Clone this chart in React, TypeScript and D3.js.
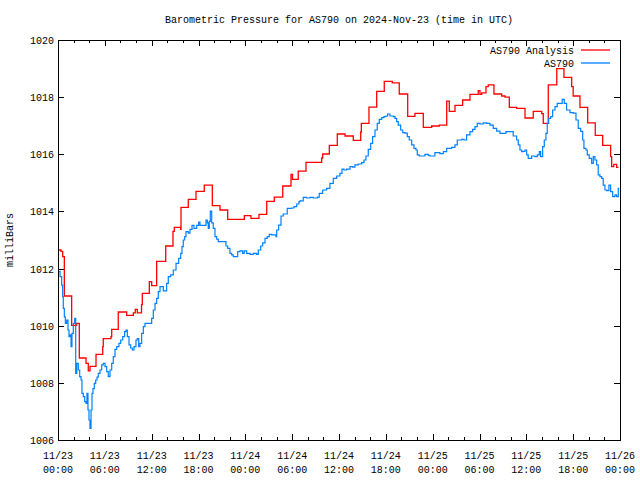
import React from "react";
import * as d3 from "d3";

const TITLE = "Barometric Pressure for AS790 on 2024-Nov-23 (time in UTC)";
const Y_LABEL = "milliBars";
const SERIES_NAMES = ["AS790 Analysis", "AS790"];
const Y_TICKS = [1006, 1008, 1010, 1012, 1014, 1016, 1018, 1020];
const X_TICK_HOURS = [0, 6, 12, 18, 24, 30, 36, 42, 48, 54, 60, 66, 72];
const X_TICK_DATES = ["11/23", "11/23", "11/23", "11/23", "11/24", "11/24", "11/24", "11/24", "11/25", "11/25", "11/25", "11/25", "11/26"];
const X_TICK_TIMES = ["00:00", "06:00", "12:00", "18:00", "00:00", "06:00", "12:00", "18:00", "00:00", "06:00", "12:00", "18:00", "00:00"];

// Analysis (step) series: hours since 11/23 00:00 UTC, pressure (mb)
const analysisHours = [0, 0.38, 0.6, 0.81, 1.75, 2.4, 2.73, 3.59, 3.88, 4.1, 4.87, 5.73, 5.8, 6.79, 6.88, 7.72, 8.8, 9.65, 9.9, 10.16, 10.7, 10.8, 11.7, 12.0, 12.64, 13.8, 14.73, 14.9, 15.72, 15.76, 16.69, 17.68, 18.74, 19.77, 20.75, 21.74, 23.87, 24.72, 25.75, 26.74, 27.71, 28.79, 29.85, 30.04, 30.78, 31.77, 33.78, 33.91, 34.76, 35.78, 36.77, 37.83, 38.78, 38.86, 39.84, 40.83, 41.8, 42.83, 43.72, 44.8, 45.73, 46.8, 47.87, 48.85, 49.8, 50.13, 50.86, 51.84, 52.78, 53.84, 54.06, 54.28, 54.83, 55.12, 55.85, 56.84, 57.27, 57.82, 58.76, 59.83, 60.89, 61.97, 62.17, 62.81, 63.9, 64.82, 65.81, 66.0, 66.87, 67.86, 68.83, 69.78, 70.8, 70.93, 71.2, 71.57, 71.8];
const analysisValues = [1012.65, 1012.6, 1012.42, 1011.04, 1010.01, 1010.08, 1008.87, 1008.68, 1008.42, 1008.58, 1009.0, 1009.27, 1009.55, 1009.62, 1009.87, 1010.48, 1010.36, 1010.45, 1010.57, 1010.45, 1010.74, 1011.13, 1011.54, 1011.4, 1012.25, 1012.79, 1013.3, 1013.44, 1013.37, 1014.14, 1014.42, 1014.7, 1014.92, 1014.2, 1014.05, 1013.72, 1013.85, 1013.76, 1013.9, 1014.35, 1014.5, 1014.89, 1015.3, 1015.12, 1015.41, 1015.72, 1015.87, 1016.01, 1016.31, 1016.71, 1016.64, 1016.49, 1016.78, 1017.08, 1017.65, 1018.2, 1018.55, 1018.5, 1018.11, 1017.33, 1017.43, 1016.94, 1016.99, 1017.02, 1017.86, 1017.5, 1017.71, 1017.9, 1018.1, 1018.23, 1018.1, 1018.15, 1018.37, 1018.43, 1018.11, 1018.04, 1018.0, 1017.64, 1017.61, 1017.27, 1017.5, 1017.42, 1017.08, 1018.43, 1019.0, 1018.69, 1018.37, 1018.04, 1017.64, 1017.1, 1016.66, 1016.31, 1015.92, 1015.57, 1015.65, 1015.54, 1015.54];

// Observed series
const obsHours = [0.05, 0.26, 0.47, 0.6, 0.68, 0.81, 0.94, 1.11, 1.28, 1.41, 1.54, 1.67, 1.79, 1.96, 2.14, 2.27, 2.4, 2.6, 2.78, 2.95, 3.07, 3.24, 3.42, 3.59, 3.71, 3.84, 3.97, 4.1, 4.23, 4.36, 4.48, 4.65, 4.83, 5.0, 5.16, 5.38, 5.6, 5.8, 6.02, 6.24, 6.44, 6.66, 6.88, 7.08, 7.3, 7.52, 7.81, 8.03, 8.29, 8.54, 8.71, 8.88, 9.1, 9.31, 9.52, 9.74, 9.99, 10.16, 10.34, 10.5, 10.72, 10.93, 11.14, 11.79, 12.0, 12.21, 12.43, 12.64, 12.85, 13.07, 13.49, 13.92, 14.13, 14.44, 14.77, 15.12, 15.46, 15.72, 15.88, 16.05, 16.23, 16.4, 16.69, 16.91, 17.17, 17.42, 17.77, 18.02, 18.19, 18.7, 18.96, 19.13, 19.25, 19.38, 19.51, 19.69, 19.89, 20.11, 20.33, 20.53, 21.39, 21.52, 21.74, 22.03, 22.25, 22.46, 22.8, 23.02, 23.31, 23.66, 23.86, 24.17, 24.6, 25.02, 25.45, 25.66, 25.97, 26.22, 26.52, 26.81, 27.07, 27.38, 27.67, 27.93, 28.02, 28.27, 28.57, 28.86, 29.21, 29.37, 29.63, 29.94, 30.23, 30.58, 30.87, 31.0, 31.42, 31.86, 32.28, 32.7, 33.22, 33.47, 33.91, 34.42, 34.84, 35.27, 35.7, 36.12, 36.38, 36.64, 36.98, 37.41, 37.75, 38.04, 38.47, 38.9, 39.2, 39.45, 39.75, 40.06, 40.31, 40.61, 40.9, 41.16, 41.47, 41.76, 42.02, 42.23, 42.53, 42.95, 43.17, 43.39, 43.59, 43.9, 44.16, 44.45, 44.75, 45.0, 45.31, 45.6, 45.86, 46.03, 46.28, 46.79, 47.01, 47.43, 47.65, 48.29, 48.93, 49.36, 49.79, 50.43, 50.86, 51.15, 51.72, 52.01, 52.35, 52.78, 53.12, 53.42, 53.71, 54.06, 54.48, 54.92, 55.34, 55.76, 56.2, 56.62, 57.04, 57.39, 57.9, 58.32, 58.76, 58.97, 59.18, 59.4, 59.6, 59.82, 60.04, 60.24, 60.68, 61.1, 61.4, 61.66, 61.83, 62.09, 62.3, 62.51, 62.68, 62.86, 63.12, 63.37, 63.67, 63.96, 64.31, 64.6, 64.86, 65.16, 65.59, 66.01, 66.36, 66.65, 66.96, 67.22, 67.38, 67.64, 67.81, 68.06, 68.37, 68.58, 68.79, 69.01, 69.21, 69.43, 69.65, 69.85, 70.07, 70.29, 70.58, 70.8, 71.06, 71.35, 71.57, 71.78, 71.9];
const obsValues = [1011.9, 1011.72, 1011.42, 1011.02, 1010.61, 1010.31, 1010.08, 1010.2, 1009.85, 1009.62, 1009.68, 1009.27, 1009.73, 1010.08, 1010.26, 1008.33, 1008.68, 1008.45, 1008.22, 1008.1, 1007.63, 1007.52, 1007.34, 1007.28, 1007.63, 1007.05, 1006.7, 1006.41, 1007.05, 1007.63, 1007.8, 1007.98, 1008.1, 1008.2, 1008.33, 1008.45, 1008.63, 1008.68, 1008.57, 1008.39, 1008.22, 1008.45, 1008.68, 1008.92, 1009.17, 1009.27, 1009.38, 1009.5, 1009.62, 1009.79, 1009.85, 1009.62, 1009.33, 1009.22, 1009.15, 1009.27, 1009.5, 1009.55, 1009.27, 1009.38, 1009.73, 1009.97, 1010.08, 1010.08, 1010.26, 1010.55, 1010.78, 1010.96, 1011.19, 1011.37, 1011.22, 1011.48, 1011.72, 1011.78, 1011.95, 1012.18, 1012.36, 1012.53, 1012.77, 1013.0, 1013.12, 1013.29, 1013.24, 1013.37, 1013.51, 1013.41, 1013.51, 1013.63, 1013.51, 1013.51, 1013.7, 1013.6, 1013.41, 1013.65, 1014.01, 1013.6, 1013.41, 1013.12, 1013.03, 1012.94, 1012.94, 1012.79, 1012.71, 1012.53, 1012.48, 1012.42, 1012.42, 1012.59, 1012.62, 1012.53, 1012.62, 1012.53, 1012.5, 1012.53, 1012.5, 1012.65, 1012.79, 1012.9, 1013.06, 1013.12, 1013.2, 1013.18, 1013.18, 1013.12, 1013.35, 1013.52, 1013.84, 1013.91, 1013.91, 1014.11, 1014.11, 1014.12, 1014.17, 1014.26, 1014.34, 1014.37, 1014.49, 1014.47, 1014.49, 1014.47, 1014.5, 1014.63, 1014.75, 1014.81, 1014.98, 1015.16, 1015.24, 1015.33, 1015.48, 1015.45, 1015.48, 1015.57, 1015.55, 1015.63, 1015.66, 1015.71, 1015.8, 1015.94, 1016.17, 1016.38, 1016.62, 1016.85, 1017.08, 1017.22, 1017.28, 1017.32, 1017.34, 1017.41, 1017.34, 1017.32, 1017.26, 1017.14, 1017.02, 1016.85, 1016.76, 1016.74, 1016.62, 1016.5, 1016.33, 1016.21, 1016.15, 1015.98, 1015.94, 1015.94, 1016.0, 1015.96, 1015.94, 1016.06, 1016.02, 1016.09, 1016.21, 1016.24, 1016.33, 1016.5, 1016.52, 1016.5, 1016.68, 1016.79, 1016.87, 1016.97, 1017.08, 1017.06, 1017.1, 1017.08, 1017.02, 1016.91, 1016.81, 1016.73, 1016.73, 1016.79, 1016.79, 1016.64, 1016.5, 1016.33, 1016.15, 1016.09, 1016.1, 1016.15, 1015.98, 1015.86, 1015.94, 1015.92, 1015.98, 1016.09, 1015.92, 1016.27, 1016.5, 1016.73, 1017.08, 1017.26, 1017.32, 1017.55, 1017.67, 1017.78, 1017.78, 1017.92, 1017.78, 1017.55, 1017.46, 1017.44, 1017.2, 1016.91, 1016.8, 1016.5, 1016.21, 1016.15, 1015.98, 1015.86, 1015.68, 1015.92, 1015.8, 1015.63, 1015.28, 1015.22, 1015.16, 1014.92, 1014.75, 1014.73, 1014.92, 1014.69, 1014.52, 1014.58, 1014.52, 1014.81, 1014.81];

const COLORS = ["#ff0000", "#0080ff"];

const W = 640;
const H = 480;
const M = { left: 58, right: 20, top: 40, bottom: 40 };
const FONT = "'Liberation Mono', 'DejaVu Sans Mono', monospace";

export default function App() {
  const x = d3.scaleLinear().domain([0, 72]).range([M.left, W - M.right]);
  const y = d3.scaleLinear().domain([1006, 1020]).range([H - M.bottom, M.top]);

  const analysis = analysisHours.map((h, i) => [h, analysisValues[i]] as [number, number]);
  const obs = obsHours.map((h, i) => [h, obsValues[i]] as [number, number]);

  const stepLine = d3
    .line<[number, number]>()
    .x((d) => x(d[0]))
    .y((d) => y(d[1]))
    .curve(d3.curveStepAfter);

  const minorHours = d3.range(0, 73, 2);
  const x0 = M.left;
  const x1 = W - M.right;
  const y0 = M.top;
  const y1 = H - M.bottom;

  return (
    <svg
      width={W}
      height={H}
      style={{ position: "fixed", left: 0, top: 0, background: "#fff" }}
      fontFamily={FONT}
      fontSize={10}
    >
      <rect x={0} y={0} width={W} height={H} fill="#fff" />
      <text x={(x0 + x1) / 2} y={23} textAnchor="middle" fill="#000">
        {TITLE}
      </text>

      {/* ticks */}
      <g stroke="#000" strokeWidth={1} shapeRendering="crispEdges">
        {minorHours.map((h) => {
          const major = h % 6 === 0;
          const len = major ? 6 : 3;
          const px = Math.round(x(h)) + 0.5;
          return (
            <g key={"xt" + h}>
              <line x1={px} x2={px} y1={y1} y2={y1 - len} />
              <line x1={px} x2={px} y1={y0} y2={y0 + len} />
            </g>
          );
        })}
        {Y_TICKS.map((v) => {
          const py = Math.round(y(v)) + 0.5;
          return (
            <g key={"yt" + v}>
              <line x1={x0} x2={x0 + 6} y1={py} y2={py} />
              <line x1={x1} x2={x1 - 6} y1={py} y2={py} />
            </g>
          );
        })}
      </g>

      {/* tick labels */}
      {Y_TICKS.map((v) => (
        <text key={"yl" + v} x={x0 - 4} y={y(v) + 4} textAnchor="end" fill="#000">
          {v}
        </text>
      ))}
      {X_TICK_HOURS.map((h, i) => (
        <text key={"xl" + h} x={x(h)} textAnchor="middle" fill="#000">
          <tspan x={x(h)} y={459}>{X_TICK_DATES[i]}</tspan>
          <tspan x={x(h)} y={473}>{X_TICK_TIMES[i]}</tspan>
        </text>
      ))}
      <text
        transform={`translate(13, ${(y0 + y1) / 2}) rotate(-90)`}
        textAnchor="middle"
        fill="#000"
      >
        {Y_LABEL}
      </text>

      {/* data */}
      <path d={stepLine(analysis) || ""} fill="none" stroke={COLORS[0]} strokeWidth={1.3} />
      <path d={stepLine(obs) || ""} fill="none" stroke={COLORS[1]} strokeWidth={1.2} />

      {/* legend */}
      {SERIES_NAMES.map((name, i) => {
        const ly = 50 + i * 13;
        return (
          <g key={"lg" + i}>
            <text x={574} y={ly + 4} textAnchor="end" fill="#000">
              {name}
            </text>
            <line x1={581} x2={610} y1={ly} y2={ly} stroke={COLORS[i]} strokeWidth={1.3} />
          </g>
        );
      })}

      {/* border */}
      <rect
        x={x0 + 0.5}
        y={y0 + 0.5}
        width={x1 - x0}
        height={y1 - y0}
        fill="none"
        stroke="#000"
        strokeWidth={1}
        shapeRendering="crispEdges"
      />
    </svg>
  );
}
